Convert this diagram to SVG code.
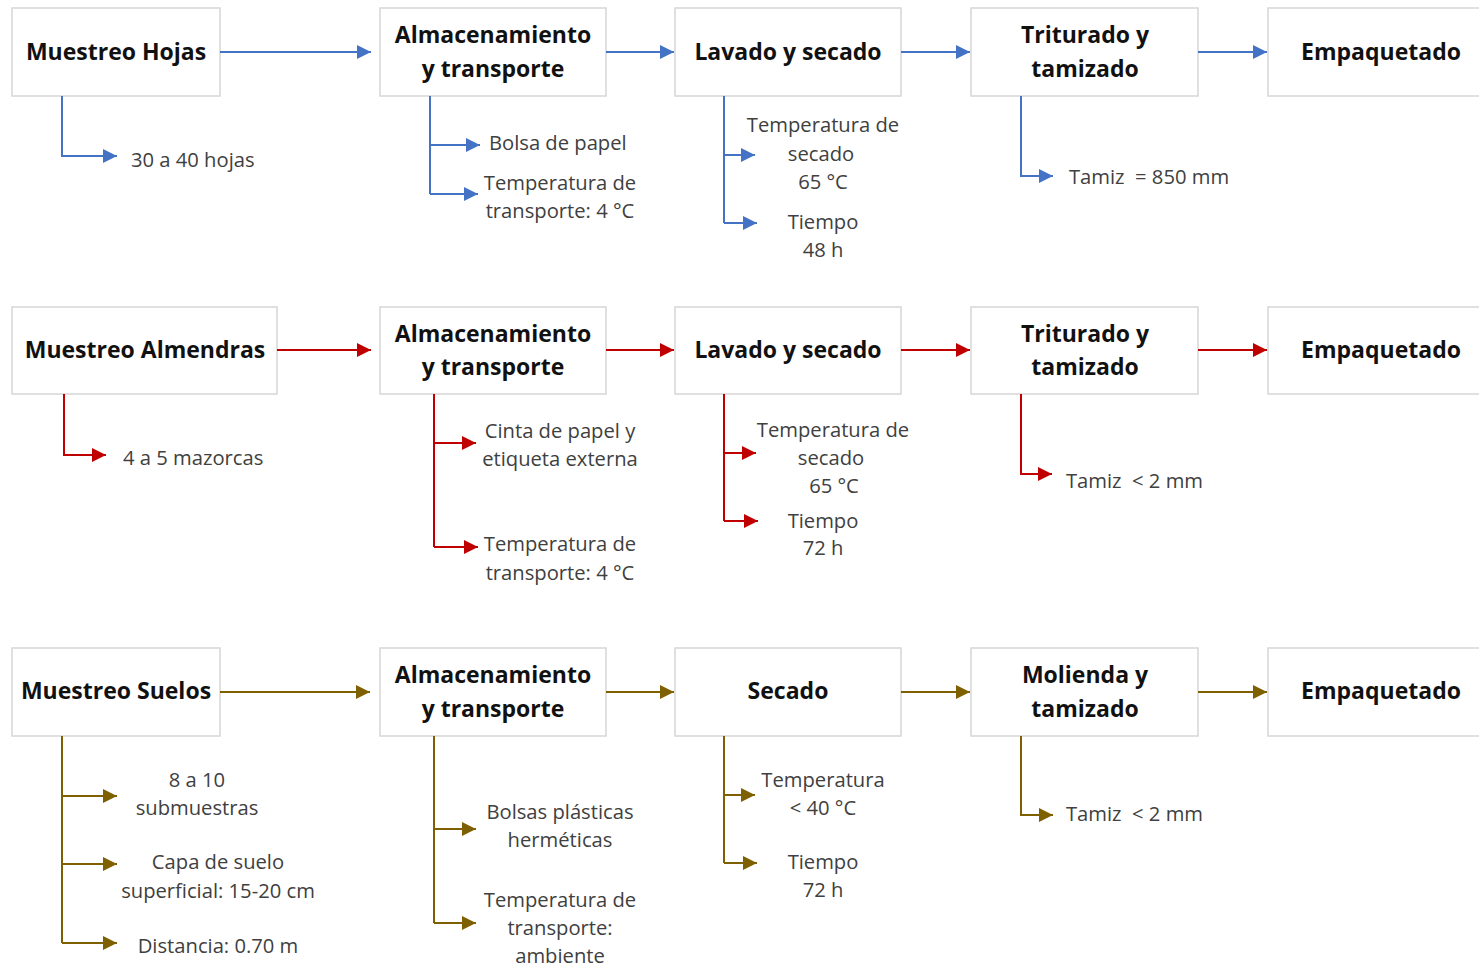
<svg xmlns="http://www.w3.org/2000/svg" width="1479" height="967" viewBox="0 0 1479 967">
<defs>
<marker id="ab" markerUnits="userSpaceOnUse" markerWidth="14" markerHeight="14" refX="14" refY="7" orient="auto"><path d="M0,0 L14,7 L0,14 z" fill="#4472C4"/></marker>
<marker id="ar" markerUnits="userSpaceOnUse" markerWidth="14" markerHeight="14" refX="14" refY="7" orient="auto"><path d="M0,0 L14,7 L0,14 z" fill="#C00000"/></marker>
<marker id="ag" markerUnits="userSpaceOnUse" markerWidth="14" markerHeight="14" refX="14" refY="7" orient="auto"><path d="M0,0 L14,7 L0,14 z" fill="#7F6000"/></marker>
</defs>
<style>
.box{fill:#fff;stroke:#d6d6d6;stroke-width:1.5}
.nt{font-family:"Open Sans","Liberation Sans",sans-serif;font-weight:bold;font-size:23px;fill:#111;text-anchor:middle}
.st{font-family:"Open Sans","Liberation Sans",sans-serif;font-size:20.2px;fill:#404040}
.c{text-anchor:middle}
.b{fill:none;stroke:#4472C4;stroke-width:2;marker-end:url(#ab)}
.r{fill:none;stroke:#C00000;stroke-width:2;marker-end:url(#ar)}
.g{fill:none;stroke:#7F6000;stroke-width:2;marker-end:url(#ag)}
.bl{fill:none;stroke:#4472C4;stroke-width:2}
.rl{fill:none;stroke:#C00000;stroke-width:2}
.gl{fill:none;stroke:#7F6000;stroke-width:2}
</style>
<rect width="1479" height="967" fill="#fff"/>

<!-- Row 1 nodes -->
<g id="h1"><rect class="box" x="12" y="8" width="208" height="88"/><text class="nt" x="116" y="60">Muestreo Hojas</text></g>
<g id="h2"><rect class="box" x="380" y="8" width="226" height="88"/><text class="nt" x="493" y="43">Almacenamiento</text><text class="nt" x="493" y="77">y transporte</text></g>
<g id="h3"><rect class="box" x="675" y="8" width="226" height="88"/><text class="nt" x="788" y="60">Lavado y secado</text></g>
<g id="h4"><rect class="box" x="971" y="8" width="227" height="88"/><text class="nt" x="1085" y="43">Triturado y</text><text class="nt" x="1085" y="77">tamizado</text></g>
<g id="h5"><rect class="box" x="1268" y="8" width="226" height="88"/><text class="nt" x="1381" y="60">Empaquetado</text></g>

<!-- Row 2 nodes -->
<g id="a1"><rect class="box" x="12" y="307" width="265" height="87"/><text class="nt" x="145" y="358">Muestreo Almendras</text></g>
<g id="a2"><rect class="box" x="380" y="307" width="226" height="87"/><text class="nt" x="493" y="342">Almacenamiento</text><text class="nt" x="493" y="375">y transporte</text></g>
<g id="a3"><rect class="box" x="675" y="307" width="226" height="87"/><text class="nt" x="788" y="358">Lavado y secado</text></g>
<g id="a4"><rect class="box" x="971" y="307" width="227" height="87"/><text class="nt" x="1085" y="342">Triturado y</text><text class="nt" x="1085" y="375">tamizado</text></g>
<g id="a5"><rect class="box" x="1268" y="307" width="226" height="87"/><text class="nt" x="1381" y="358">Empaquetado</text></g>

<!-- Row 3 nodes -->
<g id="s1"><rect class="box" x="12" y="648" width="208" height="88"/><text class="nt" x="116" y="699">Muestreo Suelos</text></g>
<g id="s2"><rect class="box" x="380" y="648" width="226" height="88"/><text class="nt" x="493" y="683">Almacenamiento</text><text class="nt" x="493" y="717">y transporte</text></g>
<g id="s3"><rect class="box" x="675" y="648" width="226" height="88"/><text class="nt" x="788" y="699">Secado</text></g>
<g id="s4"><rect class="box" x="971" y="648" width="227" height="88"/><text class="nt" x="1085" y="683">Molienda y</text><text class="nt" x="1085" y="717">tamizado</text></g>
<g id="s5"><rect class="box" x="1268" y="648" width="226" height="88"/><text class="nt" x="1381" y="699">Empaquetado</text></g>

<!-- Connectors -->
<g id="connectors">
<path class="b" d="M220,52 H371"/>
<path class="b" d="M606,52 H674"/>
<path class="b" d="M901,52 H970"/>
<path class="b" d="M1198,52 H1267"/>
<path class="b" d="M62,96 V156 H117"/>
<path class="bl" d="M430,96 V194"/>
<path class="b" d="M430,145 H480"/>
<path class="b" d="M430,194 H478"/>
<path class="bl" d="M724,96 V223"/>
<path class="b" d="M724,155 H755"/>
<path class="b" d="M724,223 H757"/>
<path class="b" d="M1021,96 V176 H1053"/>

<path class="r" d="M277,350 H371"/>
<path class="r" d="M606,350 H674"/>
<path class="r" d="M901,350 H970"/>
<path class="r" d="M1198,350 H1267"/>
<path class="r" d="M64,394 V455 H106"/>
<path class="rl" d="M434,394 V547"/>
<path class="r" d="M434,443 H476"/>
<path class="r" d="M434,547 H478"/>
<path class="rl" d="M724,394 V521"/>
<path class="r" d="M724,453 H756"/>
<path class="r" d="M724,521 H758"/>
<path class="r" d="M1021,394 V474 H1052"/>

<path class="g" d="M220,692 H370"/>
<path class="g" d="M606,692 H674"/>
<path class="g" d="M901,692 H970"/>
<path class="g" d="M1198,692 H1267"/>
<path class="gl" d="M62,736 V943"/>
<path class="g" d="M62,796 H117"/>
<path class="g" d="M62,864 H117"/>
<path class="g" d="M62,943 H117"/>
<path class="gl" d="M434,736 V923"/>
<path class="g" d="M434,829 H476"/>
<path class="g" d="M434,923 H476"/>
<path class="gl" d="M724,736 V863"/>
<path class="g" d="M724,795 H755"/>
<path class="g" d="M724,863 H757"/>
<path class="g" d="M1021,736 V815 H1053"/>
</g>

<!-- Sub labels row 1 -->
<g id="labels1">
<text class="st" x="131" y="167">30 a 40 hojas</text>
<text class="st" x="489" y="150">Bolsa de papel</text>
<text class="st c" x="560" y="190">Temperatura de</text>
<text class="st c" x="560" y="218">transporte: 4 °C</text>
<text class="st c" x="823" y="132">Temperatura de</text>
<text class="st c" x="821" y="161">secado</text>
<text class="st c" x="823" y="189">65 °C</text>
<text class="st c" x="823" y="229">Tiempo</text>
<text class="st c" x="823" y="257">48 h</text>
<text class="st" x="1069" y="184" xml:space="preserve">Tamiz  = 850 mm</text>
</g>

<!-- Sub labels row 2 -->
<g id="labels2">
<text class="st" x="123" y="465">4 a 5 mazorcas</text>
<text class="st c" x="560" y="438">Cinta de papel y</text>
<text class="st c" x="560" y="466">etiqueta externa</text>
<text class="st c" x="560" y="551">Temperatura de</text>
<text class="st c" x="560" y="580">transporte: 4 °C</text>
<text class="st c" x="833" y="437">Temperatura de</text>
<text class="st c" x="831" y="465">secado</text>
<text class="st c" x="834" y="493">65 °C</text>
<text class="st c" x="823" y="528">Tiempo</text>
<text class="st c" x="823" y="555">72 h</text>
<text class="st" x="1066" y="488" xml:space="preserve">Tamiz  &lt; 2 mm</text>
</g>

<!-- Sub labels row 3 -->
<g id="labels3">
<text class="st c" x="197" y="787">8 a 10</text>
<text class="st c" x="197" y="815">submuestras</text>
<text class="st c" x="218" y="869">Capa de suelo</text>
<text class="st c" x="218" y="898">superficial: 15-20 cm</text>
<text class="st c" x="218" y="953">Distancia: 0.70 m</text>
<text class="st c" x="560" y="819">Bolsas plásticas</text>
<text class="st c" x="560" y="847">herméticas</text>
<text class="st c" x="560" y="907">Temperatura de</text>
<text class="st c" x="560" y="935">transporte:</text>
<text class="st c" x="560" y="963">ambiente</text>
<text class="st c" x="823" y="787">Temperatura</text>
<text class="st c" x="823" y="815">&lt; 40 °C</text>
<text class="st c" x="823" y="869">Tiempo</text>
<text class="st c" x="823" y="897">72 h</text>
<text class="st" x="1066" y="821" xml:space="preserve">Tamiz  &lt; 2 mm</text>
</g>
</svg>
